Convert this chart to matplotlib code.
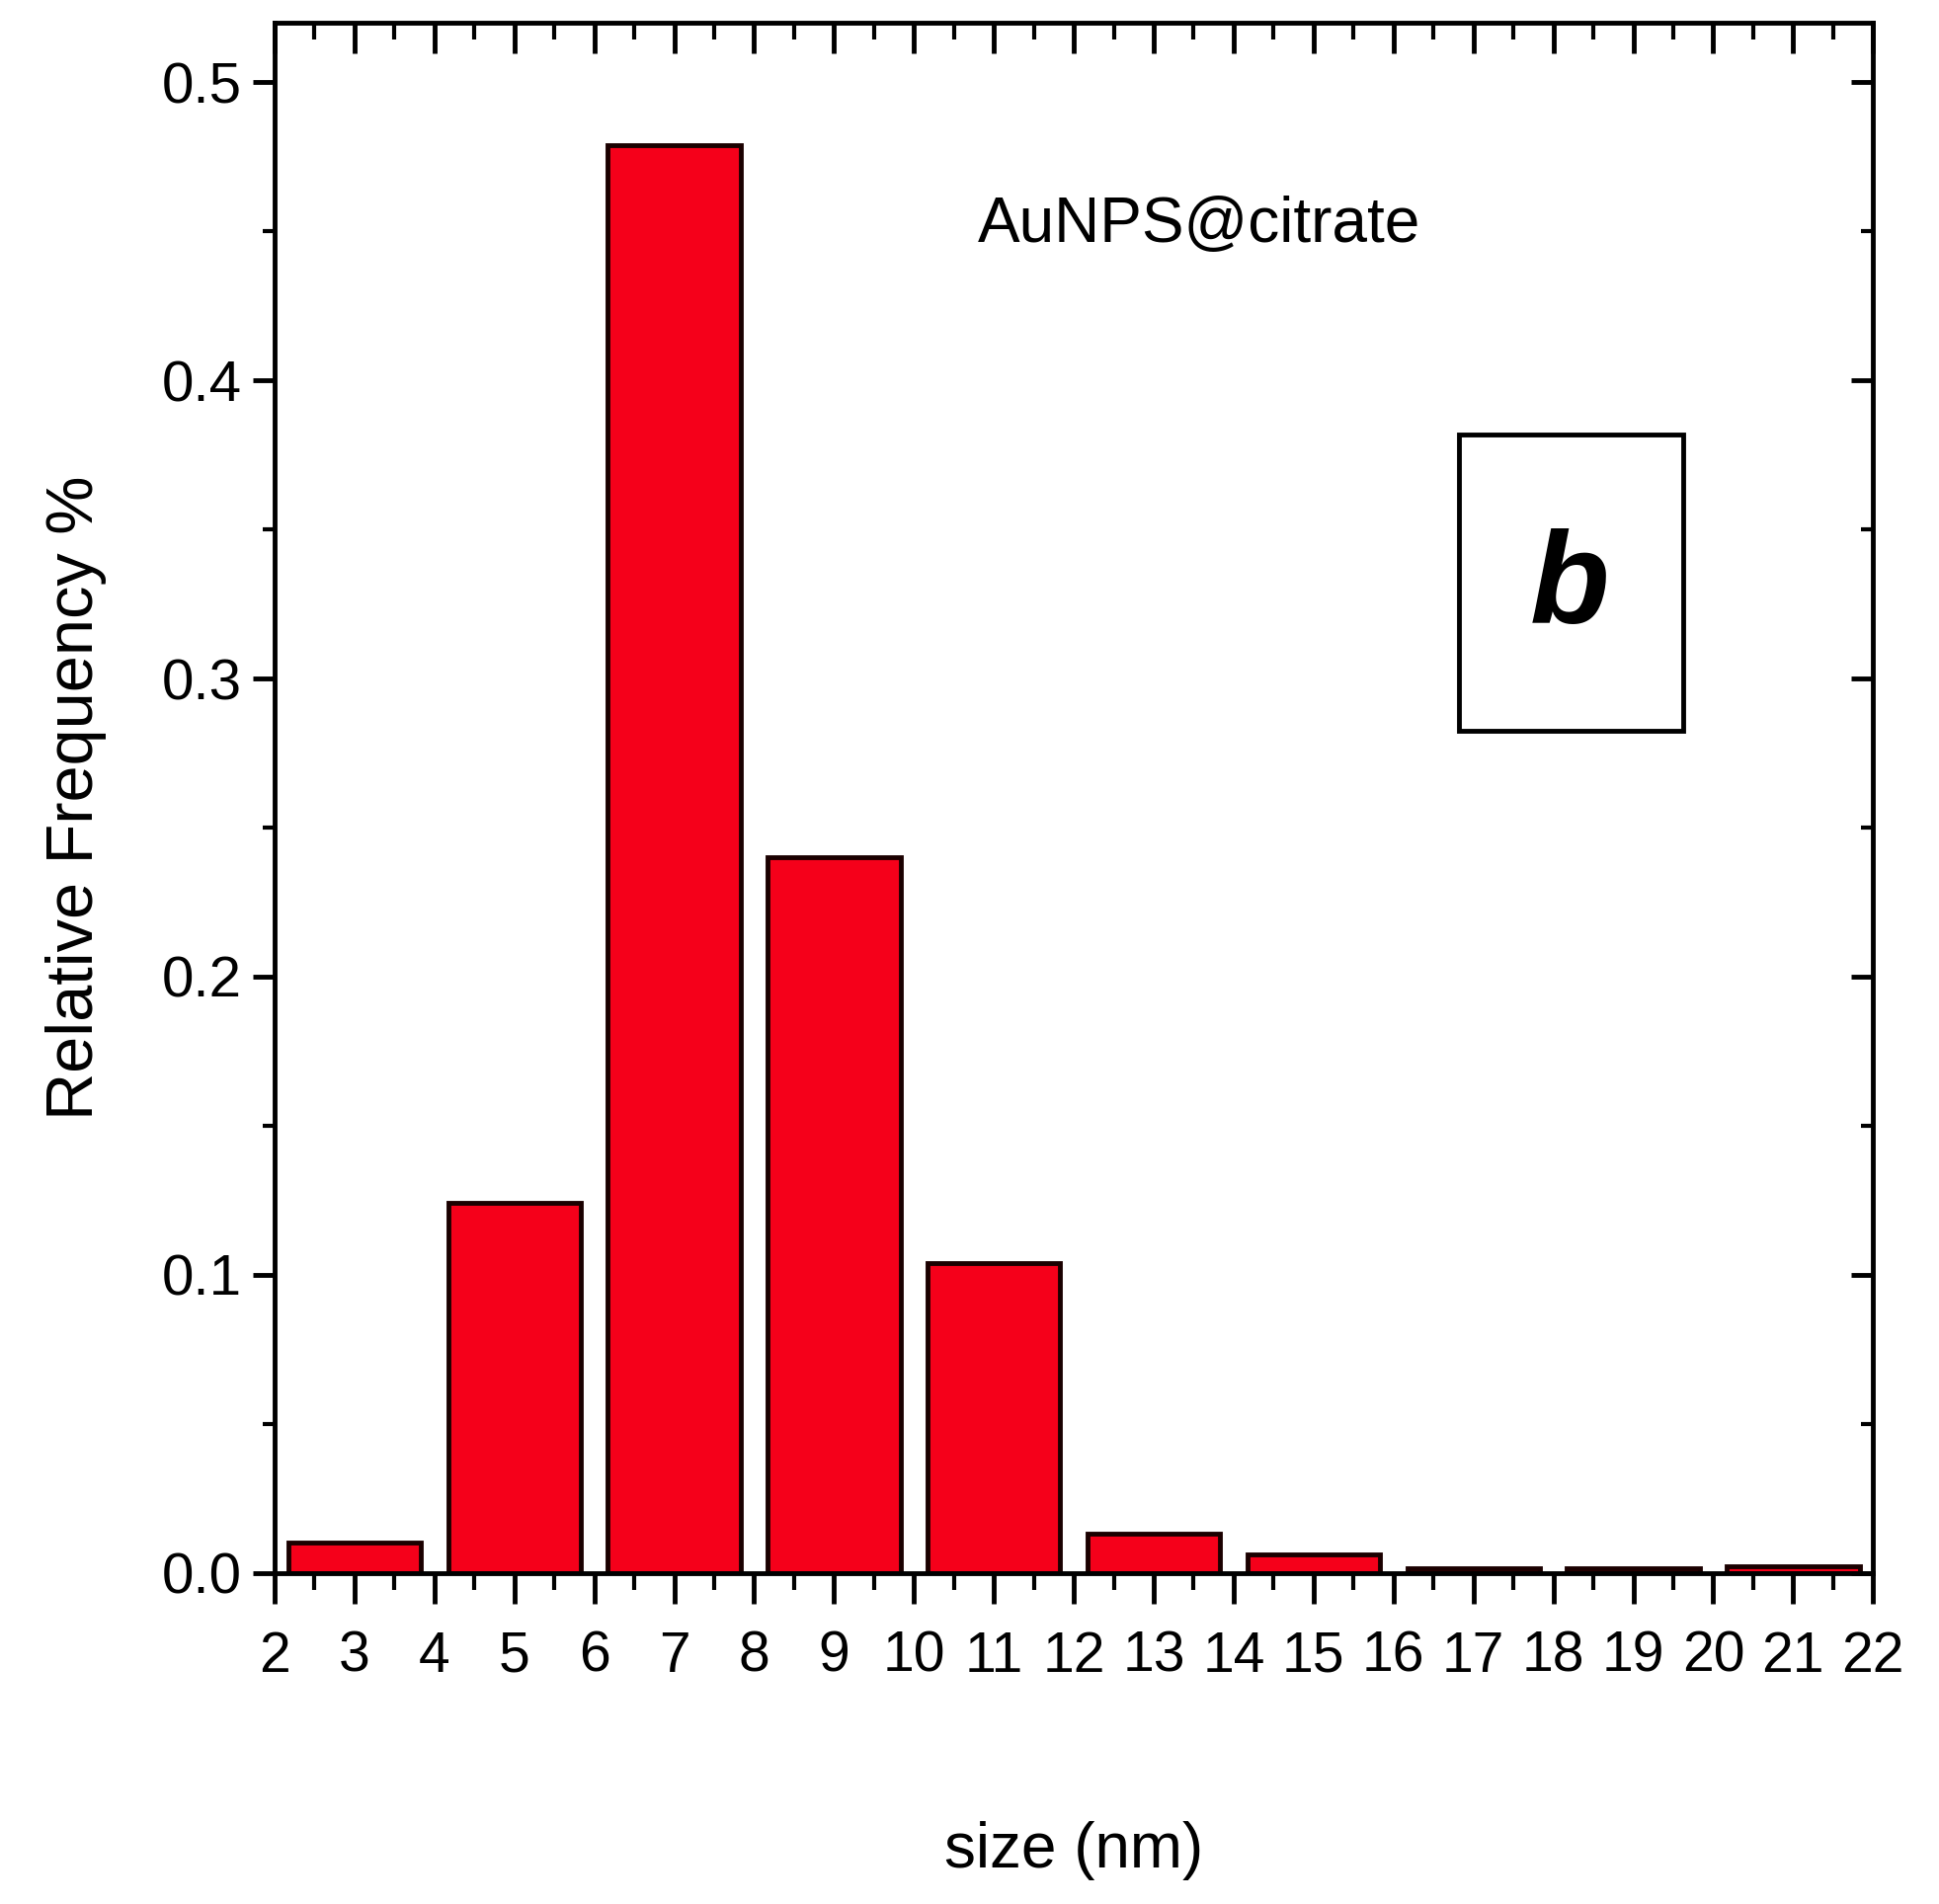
import matplotlib.pyplot as plt
from matplotlib.ticker import MultipleLocator
from matplotlib.patches import Rectangle

# bin centres (nm) and relative frequencies
size_centres = [3, 5, 7, 9, 11, 13, 15, 17, 19, 21]
rel_freq = [0.010, 0.124, 0.479, 0.240, 0.104, 0.013, 0.006, 0.0015, 0.0015, 0.002]
x_ticks = list(range(2, 23))
y_ticks = [0.0, 0.1, 0.2, 0.3, 0.4, 0.5]

plt.rcParams['font.family'] = ['Liberation Sans', 'DejaVu Sans']

fig = plt.figure(figsize=(19.63, 19.28), dpi=100)
ax = fig.add_axes([0.1416, 0.174, 0.8244, 0.814])

ax.bar(size_centres, rel_freq, width=1.66, color='#f5001a',
       edgecolor='#1a0000', linewidth=3.5)

ax.set_xlim(2, 22)
ax.set_ylim(0, 0.52)
ax.set_xticks(x_ticks)
ax.set_yticks(y_ticks)
ax.set_yticklabels([f"{v:.1f}" for v in y_ticks])
ax.xaxis.set_minor_locator(MultipleLocator(0.5))
ax.yaxis.set_minor_locator(MultipleLocator(0.05))

for s in ax.spines.values():
    s.set_linewidth(3.5)

ax.tick_params(axis='x', which='major', direction='out', length=22, width=3.5,
               labelsize=41, pad=20, top=True)
ax.tick_params(axis='x', which='minor', direction='out', length=12, width=3, top=True)
ax.tick_params(axis='y', which='major', direction='out', length=16, width=3.5,
               labelsize=42, pad=8, right=True)
ax.tick_params(axis='y', which='minor', direction='out', length=9, width=3, right=True)
# ticks on top and right point inwards
for t in ax.xaxis.get_major_ticks() + ax.xaxis.get_minor_ticks():
    t.tick2line.set_marker(3)
for t in ax.yaxis.get_major_ticks() + ax.yaxis.get_minor_ticks():
    t.tick2line.set_marker(0)

ax.set_xlabel("size (nm)", fontsize=46, labelpad=100)
ax.set_ylabel("Relative Frequency %", fontsize=48, labelpad=40)

ax.text(13.57, 0.452, "AuNPS@citrate", fontsize=46, ha='center', va='center')

ax.add_patch(Rectangle((16.82, 0.2825), 2.81, 0.0995, fill=False,
                       edgecolor='black', linewidth=3.5))
ax.text(18.2, 0.33, "b", fontsize=95, fontweight='bold', fontstyle='italic',
        ha='center', va='center')

fig.savefig("out.png", dpi=100)
